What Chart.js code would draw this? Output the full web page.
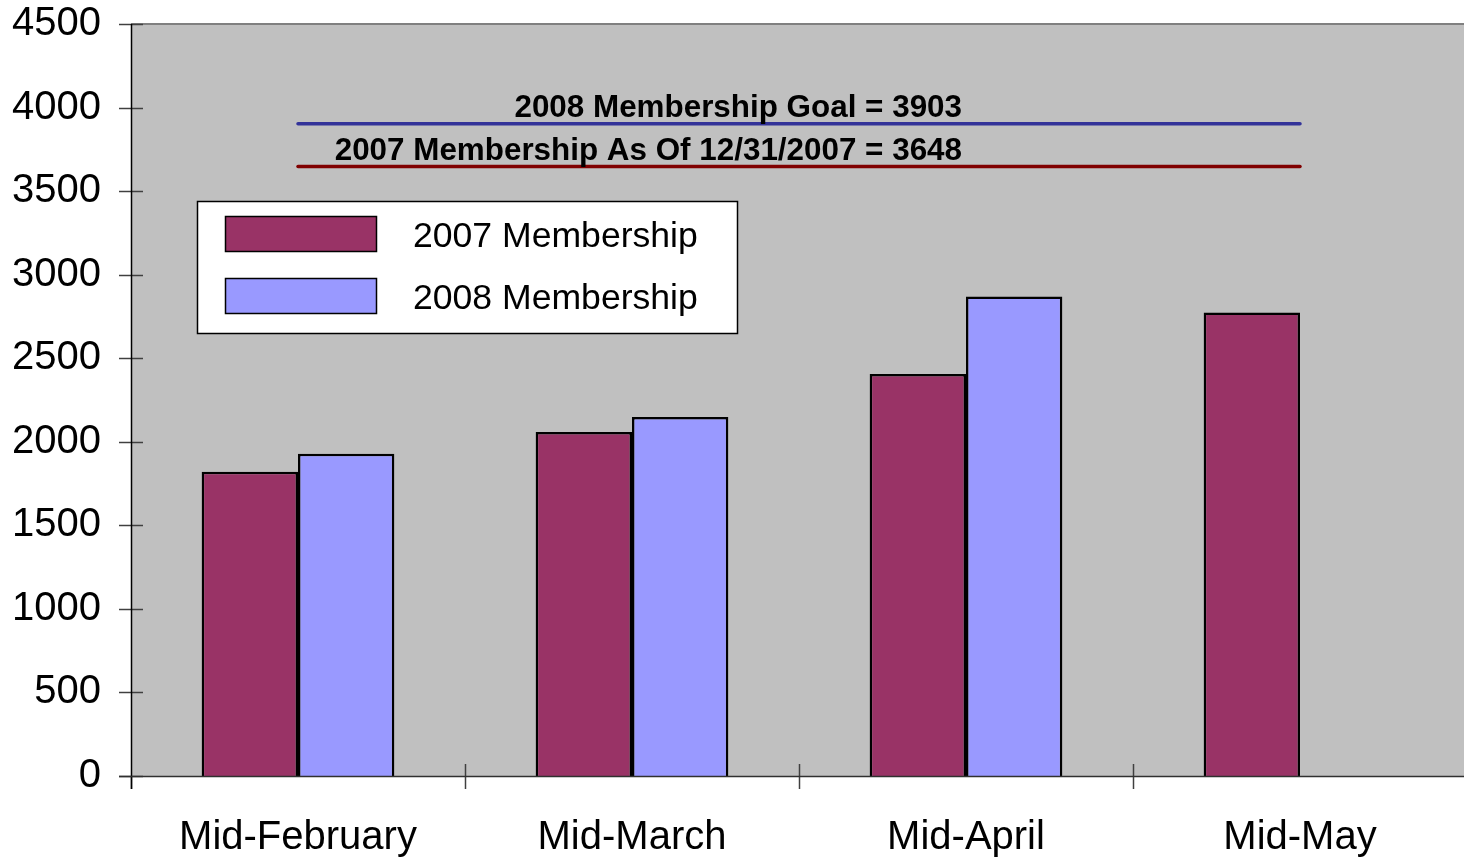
<!DOCTYPE html>
<html>
<head>
<meta charset="utf-8">
<script src="https://cdn.jsdelivr.net/npm/chart.js@4/dist/chart.umd.min.js"></script>
<style>
  html, body { margin: 0; padding: 0; background: #ffffff; overflow: hidden; }
  #wrap { position: relative; width: 1467px; height: 857px; }
</style>
</head>
<body>
<div id="wrap"><canvas id="c"></canvas></div>
<script>
// ---- data ----
const categories = ['Mid-February', 'Mid-March', 'Mid-April', 'Mid-May'];
const members2007 = [1820, 2058, 2406, 2773];
const members2008 = [1928, 2148, 2870, null];
const seriesLabels = ['2007 Membership', '2008 Membership'];
const goal2008 = 3903;
const total2007 = 3648;
const goalLabel = '2008 Membership Goal = ' + goal2008;
const totalLabel = '2007 Membership As Of 12/31/2007 = ' + total2007;
const yMin = 0, yMax = 4500, yStep = 500;

const FONT = '"Liberation Sans", Arial, sans-serif';
const C2007 = '#993366', C2008 = '#9999FF';

const decorPlugin = {
  id: 'decor',
  beforeDatasetsDraw(chart) {
    const { ctx, chartArea: a } = chart;
    ctx.save();
    ctx.fillStyle = '#C0C0C0';
    ctx.fillRect(a.left, a.top, a.right - a.left, a.bottom - a.top);
    ctx.restore();
  },
  afterDatasetsDraw(chart) {
    const { ctx, chartArea: a, scales } = chart;
    const y = scales.y;
    ctx.save();
    // top border
    ctx.strokeStyle = '#808080';
    ctx.lineWidth = 2;
    ctx.beginPath(); ctx.moveTo(a.left, a.top); ctx.lineTo(a.right, a.top); ctx.stroke();
    // y ticks
    ctx.strokeStyle = '#404040';
    ctx.lineWidth = 1.5;
    for (let v = yMin; v <= yMax; v += yStep) {
      const py = Math.round(y.getPixelForValue(v)) + 0.5;
      ctx.beginPath(); ctx.moveTo(a.left - 12, py); ctx.lineTo(a.left + 12, py); ctx.stroke();
    }
    // x ticks at category boundaries
    const n = categories.length;
    const catW = (a.right - a.left) / n;
    for (let i = 0; i < n; i++) {
      const px = Math.round(a.left + i * catW) + 0.5;
      ctx.beginPath(); ctx.moveTo(px, i === 0 ? a.bottom : a.bottom - 12); ctx.lineTo(px, a.bottom + 13); ctx.stroke();
    }
    // axes
    ctx.strokeStyle = '#000000';
    ctx.lineWidth = 1.5;
    ctx.beginPath(); ctx.moveTo(a.left + 0.5, a.top); ctx.lineTo(a.left + 0.5, a.bottom + 13); ctx.stroke();
    ctx.strokeStyle = '#303030';
    ctx.beginPath(); ctx.moveTo(a.left - 12, a.bottom + 0.5); ctx.lineTo(a.right, a.bottom + 0.5); ctx.stroke();

    // reference line labels
    ctx.fillStyle = '#000000';
    ctx.font = 'bold 31.4px ' + FONT;
    ctx.textAlign = 'right';
    ctx.textBaseline = 'alphabetic';
    const labelRight = a.left + 831;
    ctx.fillText(goalLabel, labelRight, y.getPixelForValue(goal2008) - 7);
    ctx.fillText(totalLabel, labelRight, y.getPixelForValue(total2007) - 6);

    // legend
    const lx = a.left + 66, ly = a.top + 177, lw = 540, lh = 132;
    ctx.fillStyle = '#FFFFFF';
    ctx.fillRect(lx, ly, lw, lh);
    ctx.strokeStyle = '#000000';
    ctx.lineWidth = 1.5;
    ctx.strokeRect(lx + 0.5, ly + 0.5, lw, lh);
    const colors = [C2007, C2008];
    const rows = [ly + 33, ly + 95];
    ctx.font = '35.6px ' + FONT;
    ctx.textAlign = 'left';
    ctx.textBaseline = 'middle';
    for (let i = 0; i < 2; i++) {
      const cy = rows[i];
      ctx.fillStyle = colors[i];
      ctx.fillRect(lx + 28, cy - 18, 152, 36);
      ctx.strokeStyle = '#000000';
      ctx.lineWidth = 1.5;
      ctx.strokeRect(lx + 28.5, cy - 17.5, 151, 35);
      ctx.fillStyle = '#000000';
      ctx.fillText(seriesLabels[i], lx + 216, cy + 3);
    }
    ctx.restore();
  }
};

new Chart(document.getElementById('c'), {
  data: {
    labels: categories,
    datasets: [
      {
        type: 'line', label: 'goal', data: categories.map(() => goal2008),
        borderColor: '#333399', borderWidth: 3.5, pointRadius: 0, borderCapStyle: 'round', order: 0
      },
      {
        type: 'line', label: 'total', data: categories.map(() => total2007),
        borderColor: '#800000', borderWidth: 3.5, pointRadius: 0, borderCapStyle: 'round', order: 0
      },
      {
        type: 'bar', label: seriesLabels[0], data: members2007,
        backgroundColor: C2007, borderColor: '#000000', borderWidth: 2.5, order: 1
      },
      {
        type: 'bar', label: seriesLabels[1], data: members2008,
        backgroundColor: C2008, borderColor: '#000000', borderWidth: 2.5, order: 1
      }
    ]
  },
  options: {
    responsive: true,
    maintainAspectRatio: false,
    animation: false,
    events: [],
    layout: { padding: { top: 24, right: 0, left: 0, bottom: 0 } },
    datasets: { bar: { categoryPercentage: 0.577, barPercentage: 1.0 } },
    plugins: { legend: { display: false }, tooltip: { enabled: false }, title: { display: false } },
    scales: {
      x: {
        grid: { display: false, drawTicks: false },
        border: { display: false },
        ticks: { color: '#000', font: { family: FONT, size: 40 }, padding: 38, maxRotation: 0 },
        afterFit(s) { s.height = 81; s.paddingLeft = 0; s.paddingRight = 0; }
      },
      y: {
        min: yMin, max: yMax,
        grid: { display: false, drawTicks: false },
        border: { display: false },
        ticks: { stepSize: yStep, color: '#000', font: { family: FONT, size: 40 }, padding: 30,
                 callback: (v) => String(v) },
        afterFit(s) { s.width = 131; s.paddingTop = 0; s.paddingBottom = 0; }
      }
    }
  },
  plugins: [decorPlugin]
});
</script>
</body>
</html>
